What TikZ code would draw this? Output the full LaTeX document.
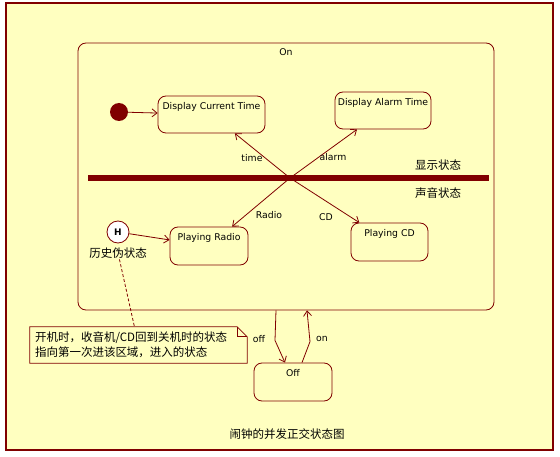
\documentclass[tikz,border=0pt]{standalone}
\usepackage{fontspec}
\setmainfont{DejaVu Sans}
\newfontfamily\cjk{Noto Sans CJK SC}
\usetikzlibrary{arrows.meta,positioning,calc}
\definecolor{maroonA}{RGB}{128,0,0}
\definecolor{paperA}{RGB}{255,255,192}
\tikzset{
  statebox/.style={draw=maroonA,fill=paperA,rounded corners=8pt,inner sep=0pt,line width=0.8pt},
  trans/.style={draw=maroonA,line width=0.8pt,-{Straight Barb[length=5pt,width=8pt]}},
  lbl/.style={font=\fontsize{9.3}{11}\selectfont,inner sep=1pt},
  cjklbl/.style={font=\cjk\fontsize{11.5}{15}\selectfont,inner sep=1pt}
}
\newcommand{\statenode}[5]{\node[statebox,minimum width=#3,minimum height=#4] (#1) at (#2) {};
  \node[lbl,anchor=north] (#1-txt) at ($(#1.north)+(0,5.5)$) {#5};}

\begin{document}
\begin{tikzpicture}[x=1pt,y=-1pt]
\useasboundingbox (0,0) rectangle (560,457);
\draw[maroonA,line width=1.5pt,fill=paperA] (6,3) rectangle (553,450);
% composite state On
\node[statebox,minimum width=416,minimum height=267] (on) at (286,176.5) {};
\node[lbl,anchor=north] (on-txt) at ($(on.north)+(0,5)$) {On};
\node[fill=maroonA,inner sep=0pt,minimum width=401,minimum height=6] (bar) at (288.5,178) {};
\coordinate (fork) at (290,178);
\node[cjklbl,anchor=south east] (upTxt) at ($(bar.north east)+(-27,-3)$) {显示状态};
\node[cjklbl,anchor=north east] (downTxt) at ($(bar.south east)+(-27,5)$) {声音状态};
% display region
\node[circle,fill=maroonA,minimum size=18,inner sep=0pt] (init) at (119,112) {};
\statenode{dct}{211.5,114.5}{107}{37}{Display Current Time}
\statenode{dat}{383,110.5}{96}{37}{Display Alarm Time}
\draw[trans] (init) -- (dct);
\draw[trans] (fork) -- (dct);
\draw[trans] (fork) -- (dat);
\node[lbl] (timeTxt) at (252,158) {time};
\node[lbl] (alarmTxt) at (333,157) {alarm};
% sound region
\node[circle,draw=maroonA,fill=white,line width=0.8pt,minimum size=22,inner sep=0pt,font=\bfseries\fontsize{9}{11}\selectfont] (hist) at (118,232) {H};
\node[cjklbl,below=3pt of hist] (histTxt) {历史伪状态};
\statenode{pr}{209,246}{78}{38}{Playing Radio}
\statenode{pcd}{389.5,242}{77}{38}{Playing CD}
\draw[trans] (hist) -- (pr);
\draw[trans] (fork) -- (pr);
\draw[trans] (fork) -- (pcd);
\node[lbl] (radioTxt) at (269,215) {Radio};
\node[lbl] (cdTxt) at (326,217) {CD};
% note
\node[cjklbl,text width=207pt,align=left,inner xsep=5pt,inner ysep=2pt,minimum height=36] (note) at (138.5,345) {开机时，收音机/CD回到关机时的状态\\指向第一次进该区域，进入的状态};
\draw[maroonA,line width=0.8pt] (note.north west) -- ($(note.north east)+(-10,0)$) -- ($(note.north east)+(0,10)$) -- (note.south east) -- (note.south west) -- cycle;
\draw[maroonA,line width=0.8pt] ($(note.north east)+(-10,0)$) -- ++(0,10) -- ($(note.north east)+(0,10)$);
\draw[maroonA,line width=0.8pt,dash pattern=on 3pt off 2pt] (histTxt) -- (note);
% off state
\statenode{off}{293,382}{78}{38}{Off}
\draw[trans] ($(on.south)+(-10,0)$) -- ++(-1,30) -- ($(off.north)+(-8,0)$);
\draw[trans] ($(off.north)+(9,0)$) -- ++(8,-21) -- ($(on.south)+(21,0)$);
\node[lbl] (offTxt) at (259,339) {off};
\node[lbl] (onTxt) at (322,339) {on};
\node[cjklbl] (title) at (287,434) {闹钟的并发正交状态图};
\end{tikzpicture}
\end{document}
